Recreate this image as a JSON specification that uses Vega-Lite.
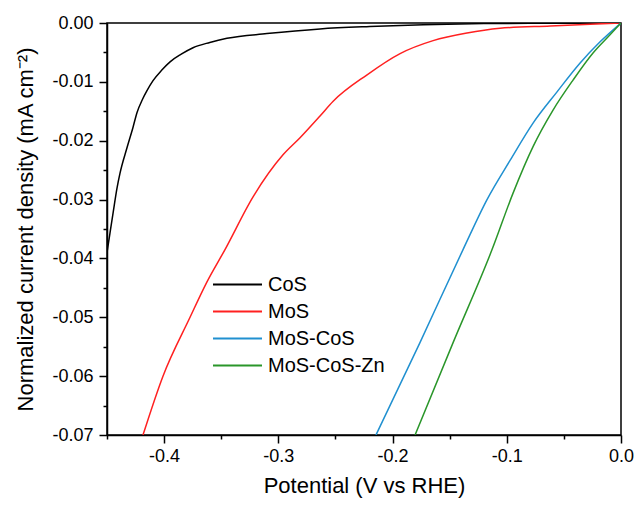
{
  "$schema": "https://vega.github.io/schema/vega-lite/v6.json",
  "width": 514,
  "height": 412,
  "autosize": {"type": "none"},
  "padding": {"left": 107, "top": 23, "right": 17, "bottom": 71},
  "background": "white",
  "config": {
    "view": {"stroke": "#000000", "strokeWidth": 1.5},
    "font": "Liberation Sans",
    "axis": {
      "grid": false,
      "domainColor": "#000000",
      "domainWidth": 1.5,
      "tickColor": "#000000",
      "tickWidth": 1.5,
      "labelColor": "#000000",
      "labelFont": "Liberation Sans",
      "labelFontSize": 18,
      "titleFont": "Liberation Sans",
      "titleFontSize": 22,
      "titleFontWeight": "normal",
      "titleColor": "#000000",
      "labelOverlap": false,
      "labelFlush": false
    },
    "legend": {
      "labelFont": "Liberation Sans",
      "labelFontSize": 20,
      "labelColor": "#000000"
    }
  },
  "data": {
    "values": [
      {"sample": "CoS", "potential": -0.45, "j": -0.039},
      {"sample": "CoS", "potential": -0.4474, "j": -0.0357},
      {"sample": "CoS", "potential": -0.4447, "j": -0.0323},
      {"sample": "CoS", "potential": -0.4412, "j": -0.0280},
      {"sample": "CoS", "potential": -0.4386, "j": -0.0255},
      {"sample": "CoS", "potential": -0.4325, "j": -0.0212},
      {"sample": "CoS", "potential": -0.4272, "j": -0.0177},
      {"sample": "CoS", "potential": -0.4237, "j": -0.0152},
      {"sample": "CoS", "potential": -0.4190, "j": -0.0130},
      {"sample": "CoS", "potential": -0.4150, "j": -0.0115},
      {"sample": "CoS", "potential": -0.4097, "j": -0.0098},
      {"sample": "CoS", "potential": -0.4020, "j": -0.0080},
      {"sample": "CoS", "potential": -0.3948, "j": -0.0066},
      {"sample": "CoS", "potential": -0.3850, "j": -0.0053},
      {"sample": "CoS", "potential": -0.3747, "j": -0.0042},
      {"sample": "CoS", "potential": -0.360, "j": -0.0033},
      {"sample": "CoS", "potential": -0.345, "j": -0.0026},
      {"sample": "CoS", "potential": -0.31, "j": -0.0018},
      {"sample": "CoS", "potential": -0.2635, "j": -0.0010},
      {"sample": "CoS", "potential": -0.22, "j": -0.0006},
      {"sample": "CoS", "potential": -0.173, "j": -0.0003},
      {"sample": "CoS", "potential": -0.12, "j": -0.0001},
      {"sample": "CoS", "potential": -0.08, "j": -0.00005},
      {"sample": "CoS", "potential": 0.0, "j": 0.0},
      {"sample": "MoS", "potential": -0.4185, "j": -0.070},
      {"sample": "MoS", "potential": -0.401, "j": -0.060},
      {"sample": "MoS", "potential": -0.3773, "j": -0.050},
      {"sample": "MoS", "potential": -0.3628, "j": -0.0441},
      {"sample": "MoS", "potential": -0.3467, "j": -0.0385},
      {"sample": "MoS", "potential": -0.322, "j": -0.0295},
      {"sample": "MoS", "potential": -0.2959, "j": -0.0224},
      {"sample": "MoS", "potential": -0.281, "j": -0.0195},
      {"sample": "MoS", "potential": -0.2635, "j": -0.0158},
      {"sample": "MoS", "potential": -0.252, "j": -0.0133},
      {"sample": "MoS", "potential": -0.2223, "j": -0.0088},
      {"sample": "MoS", "potential": -0.1934, "j": -0.0052},
      {"sample": "MoS", "potential": -0.1645, "j": -0.0030},
      {"sample": "MoS", "potential": -0.1348, "j": -0.0017},
      {"sample": "MoS", "potential": -0.1059, "j": -0.0009},
      {"sample": "MoS", "potential": -0.062, "j": -0.0005},
      {"sample": "MoS", "potential": -0.027, "j": -0.0002},
      {"sample": "MoS", "potential": 0.0, "j": 0.0},
      {"sample": "MoS-CoS", "potential": -0.2145, "j": -0.070},
      {"sample": "MoS-CoS", "potential": -0.176, "j": -0.0543},
      {"sample": "MoS-CoS", "potential": -0.1383, "j": -0.0385},
      {"sample": "MoS-CoS", "potential": -0.1173, "j": -0.0300},
      {"sample": "MoS-CoS", "potential": -0.097, "j": -0.0233},
      {"sample": "MoS-CoS", "potential": -0.077, "j": -0.0170},
      {"sample": "MoS-CoS", "potential": -0.056, "j": -0.0117},
      {"sample": "MoS-CoS", "potential": -0.0358, "j": -0.0068},
      {"sample": "MoS-CoS", "potential": -0.0183, "j": -0.0032},
      {"sample": "MoS-CoS", "potential": 0.0, "j": 0.0},
      {"sample": "MoS-CoS-Zn", "potential": -0.1803, "j": -0.070},
      {"sample": "MoS-CoS-Zn", "potential": -0.147, "j": -0.0543},
      {"sample": "MoS-CoS-Zn", "potential": -0.1129, "j": -0.0385},
      {"sample": "MoS-CoS-Zn", "potential": -0.0945, "j": -0.0289},
      {"sample": "MoS-CoS-Zn", "potential": -0.077, "j": -0.0210},
      {"sample": "MoS-CoS-Zn", "potential": -0.0595, "j": -0.0148},
      {"sample": "MoS-CoS-Zn", "potential": -0.042, "j": -0.0097},
      {"sample": "MoS-CoS-Zn", "potential": -0.0245, "j": -0.0051},
      {"sample": "MoS-CoS-Zn", "potential": -0.0096, "j": -0.0020},
      {"sample": "MoS-CoS-Zn", "potential": 0.0, "j": 0.0}
    ]
  },
  "mark": {"type": "line", "strokeWidth": 1.5, "clip": true, "interpolate": "monotone"},
  "encoding": {
    "x": {
      "field": "potential",
      "type": "quantitative",
      "scale": {"domain": [-0.45, 0], "nice": false, "zero": false},
      "axis": {
        "title": "Potential (V vs RHE)",
        "values": [-0.45, -0.4, -0.35, -0.3, -0.25, -0.2, -0.15, -0.1, -0.05, 0],
        "tickSize": {"condition": {"test": "abs(datum.value*10 - round(datum.value*10)) < 0.01", "value": 8}, "value": 4},
        "labelExpr": "abs(datum.value*10 - round(datum.value*10)) < 0.01 ? replace(format(datum.value, '.1f'), '\u2212', '-') : ''",
        "labelPadding": 4,
        "titlePadding": 10
      }
    },
    "y": {
      "field": "j",
      "type": "quantitative",
      "scale": {"domain": [-0.07, 0], "nice": false, "zero": false},
      "axis": {
        "title": "Normalized current density (mA cm\u207b\u00b2)",
        "values": [0, -0.005, -0.01, -0.015, -0.02, -0.025, -0.03, -0.035, -0.04, -0.045, -0.05, -0.055, -0.06, -0.065, -0.07],
        "tickSize": {"condition": {"test": "abs(datum.value*100 - round(datum.value*100)) < 0.01", "value": 8}, "value": 4},
        "labelExpr": "abs(datum.value*100 - round(datum.value*100)) < 0.01 ? replace(format(datum.value, '.2f'), '\u2212', '-') : ''",
        "labelPadding": 6,
        "titlePadding": 14
      }
    },
    "color": {
      "field": "sample",
      "type": "nominal",
      "sort": ["CoS", "MoS", "MoS-CoS", "MoS-CoS-Zn"],
      "scale": {
        "domain": ["CoS", "MoS", "MoS-CoS", "MoS-CoS-Zn"],
        "range": ["#000000", "#ff2020", "#2090d0", "#2a962a"]
      },
      "legend": {
        "title": null,
        "orient": "none",
        "legendX": 117,
        "legendY": 248,
        "symbolType": "M-2,0H2",
        "symbolSize": 600,
        "symbolStrokeWidth": 2,
        "symbolFillColor": "transparent",
        "rowPadding": 3,
        "labelOffset": 17,
        "padding": 0
      }
    },
    "order": {"field": "potential", "type": "quantitative"}
  }
}
